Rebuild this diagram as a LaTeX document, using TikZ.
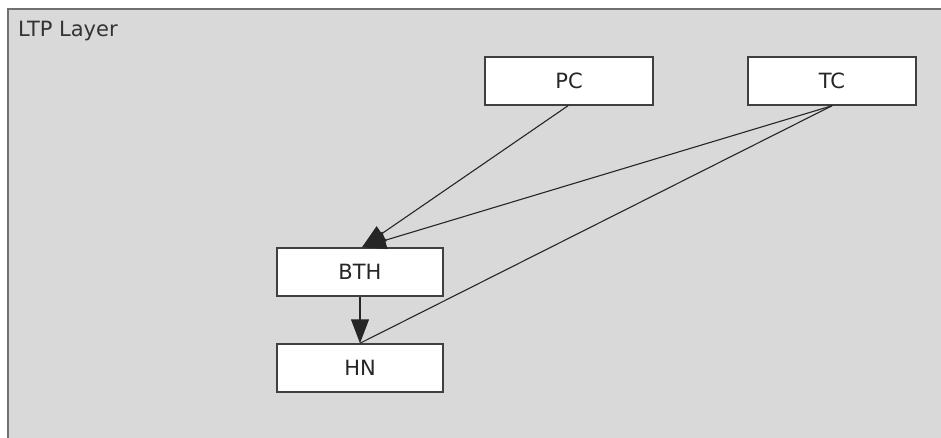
\documentclass[tikz,border=0pt]{standalone}
\usepackage{fontspec}
\setmainfont{DejaVu Sans}
\usetikzlibrary{arrows.meta}
\definecolor{bgfill}{HTML}{D9D9D9}
\definecolor{frame}{HTML}{707070}
\definecolor{boxline}{HTML}{404040}
\tikzset{
  blk/.style={draw=boxline, line width=1.5pt, fill=white, minimum width=168pt, minimum height=48pt, inner sep=0pt, font=\fontsize{21pt}{25pt}\selectfont, text=black!85},
  conn/.style={line width=1.1pt, draw=black!85},
  arr/.style={conn, -{Triangle[length=24pt,width=18pt]}}
}
\begin{document}
\begin{tikzpicture}[x=1pt,y=-1pt]
\useasboundingbox (0,0) rectangle (941,437);
\begin{scope}
\clip (0,0) rectangle (941,437);
\draw[frame, line width=2.2pt, fill=bgfill] (8,9) rectangle (960,460);
\end{scope}
\node[anchor=base west, font=\fontsize{21pt}{25pt}\selectfont, text=black!80, inner sep=0pt] (lbl) at (18,36) {LTP Layer};
\node[blk] (pc) at (569,81) {PC};
\node[blk] (tc) at (832,81) {TC};
\node[blk, minimum width=166pt] (bth) at (360,272) {BTH};
\node[blk, minimum width=166pt] (hn) at (360,368) {HN};
\coordinate (bthtop) at ([xshift=2pt]bth.north);
\draw[arr] ([xshift=-1pt]pc.south) -- (bthtop);
\draw[arr] (tc.south) -- (bthtop);
\draw[conn] (tc.south) -- (hn.north);
\draw[arr] (bth.south) -- (hn.north);
\end{tikzpicture}
\end{document}
